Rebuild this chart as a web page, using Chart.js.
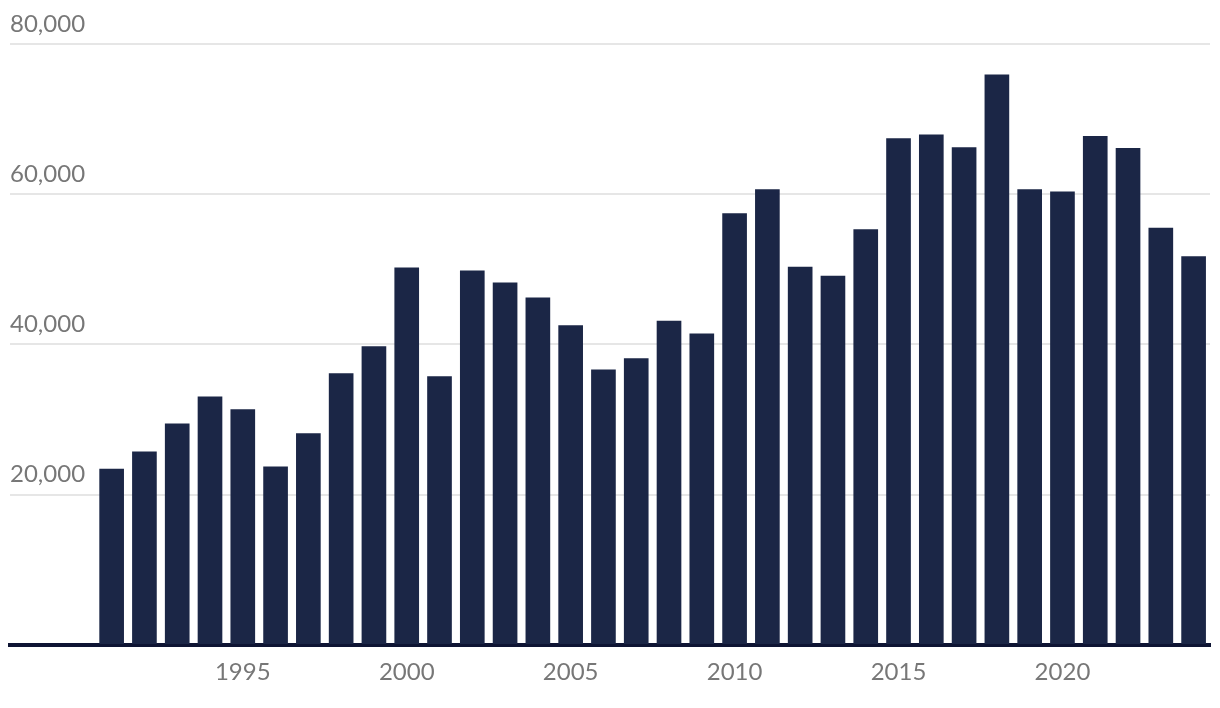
<!DOCTYPE html>
<html>
<head>
<meta charset="utf-8">
<script src="https://cdn.jsdelivr.net/npm/chart.js@4/dist/chart.umd.min.js"></script>
<style>
html,body{margin:0;padding:0;background:#fff;}
#wrap{width:1220px;height:708px;position:relative;}
</style>
</head>
<body>
<div id="wrap"><canvas id="c"></canvas></div>
<script>
const years = [1991,1992,1993,1994,1995,1996,1997,1998,1999,2000,2001,2002,2003,2004,2005,2006,2007,2008,2009,2010,2011,2012,2013,2014,2015,2016,2017,2018,2019,2020,2021,2022,2023,2024];
const values = [23400,25700,29400,33000,31300,23700,28100,36100,39700,50200,35700,49800,48200,46200,42500,36600,38100,43100,41400,57400,60600,50300,49100,55300,67400,67900,66200,75900,60600,60300,67700,66100,55500,51700];
const xTicks = [1995,2000,2005,2010,2015,2020];
const yTicks = [0,20000,40000,60000,80000];

const labelFont = {family: 'Lato, "Open Sans", sans-serif', size: 24};
const labelColor = '#777777';

new Chart(document.getElementById('c'), {
  type: 'bar',
  data: {
    datasets: [{
      data: years.map((y, i) => ({x: y, y: values[i]})),
      backgroundColor: '#1b2646',
      barThickness: 24,
      borderWidth: 0
    }]
  },
  options: {
    responsive: true,
    maintainAspectRatio: false,
    animation: false,
    layout: {padding: {left: 10, right: 10, top: 44, bottom: 8.5}},
    plugins: {legend: {display: false}, tooltip: {enabled: false}},
    scales: {
      x: {
        type: 'linear',
        offset: false,
        min: 1987.9,
        max: 2024.5,
        grid: {display: false, drawTicks: false, offset: false},
        border: {display: true, color: '#0e1433', width: 4},
        afterBuildTicks: (axis) => { axis.ticks = xTicks.map(v => ({value: v})); },
        ticks: {
          font: labelFont,
          color: labelColor,
          padding: 13,
          maxRotation: 0,
          autoSkip: false,
          callback: (v) => String(v)
        }
      },
      y: {
        min: 0,
        max: 80000,
        afterBuildTicks: (axis) => { axis.ticks = yTicks.map(v => ({value: v})); },
        grid: {
          drawTicks: false,
          color: (ctx) => ctx.tick && ctx.tick.value === 0 ? 'rgba(0,0,0,0)' : '#e6e6e6',
          lineWidth: 2
        },
        border: {display: false},
        ticks: {
          mirror: true,
          padding: 0,
          labelOffset: -20,
          font: labelFont,
          color: labelColor,
          callback: (v) => v === 0 ? '' : v.toLocaleString('en-US')
        }
      }
    }
  }
});
</script>
</body>
</html>
